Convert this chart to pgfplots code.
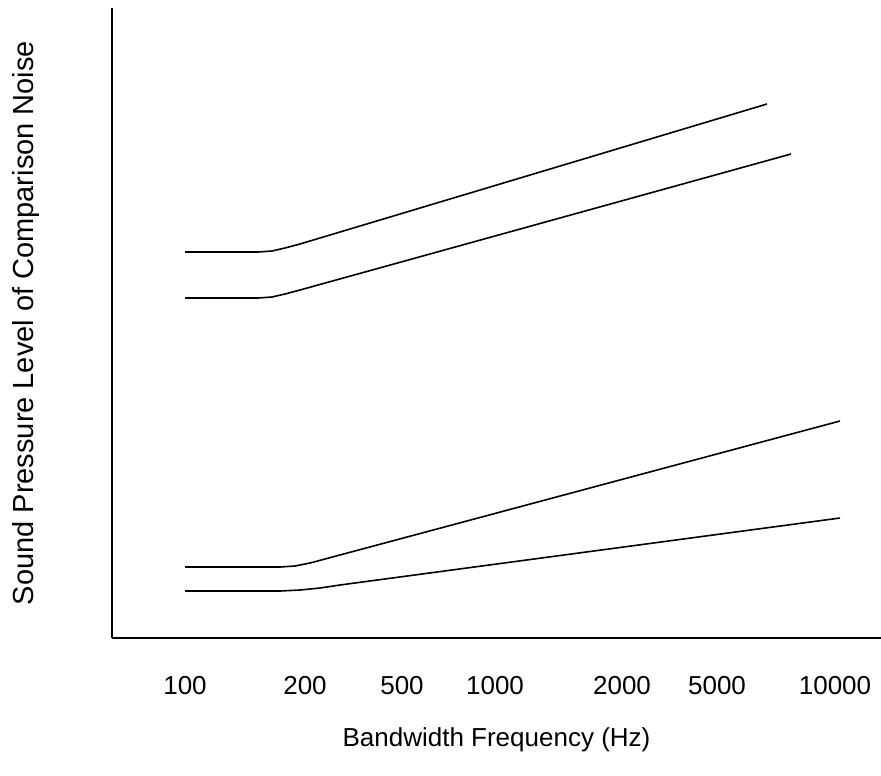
\documentclass[border=0pt]{standalone}
\usepackage{fontspec}
\setmainfont{Liberation Sans}
\usepackage{pgfplots}
\pgfplotsset{compat=1.18}
\begin{document}
\begin{tikzpicture}
\useasboundingbox (0,0) rectangle (440.5pt,-387.5pt);
\begin{axis}[
  at={(56pt,-319pt)}, anchor=south west,
  scale only axis, width=384.5pt, height=315pt,
  xmin=112, xmax=881, ymin=0, ymax=630,
  axis x line*=bottom, axis y line*=left,
  axis line style={line width=1pt, black},
  major tick length=0pt,
  xtick={185,305,402,495,622,717,835},
  xticklabels={100,200,500,1000,2000,5000,10000},
  ytick=\empty,
  xticklabel style={anchor=north, inner sep=0pt, yshift=-19pt, font=\fontsize{13}{15}\selectfont},
  xlabel={Bandwidth Frequency (Hz)},
  ylabel={Sound Pressure Level of Comparison Noise},
  xlabel style={at={(axis description cs:0.5,-0.1619)}, anchor=center, font=\fontsize{13}{15}\selectfont},
  ylabel style={at={(axis description cs:-0.1118,0.5)}, anchor=center, rotate=0, font=\fontsize{14.5}{17}\selectfont},
  clip=false,
]
% y values = 638 - pixel y
\addplot[black, line width=0.8pt] coordinates {(185,386) (258,386) (272,387) (285,390) (300,394) (767,534)};
\addplot[black, line width=0.8pt] coordinates {(185,340) (258,340) (272,341) (285,344) (300,348) (791,484)};
\addplot[black, line width=0.8pt] coordinates {(185,71) (280,71) (295,72) (310,75) (325,79) (840,217)};
\addplot[black, line width=0.8pt] coordinates {(185,47) (280,47) (300,48) (320,50) (340,53) (840,120)};
\end{axis}
\end{tikzpicture}
\end{document}
